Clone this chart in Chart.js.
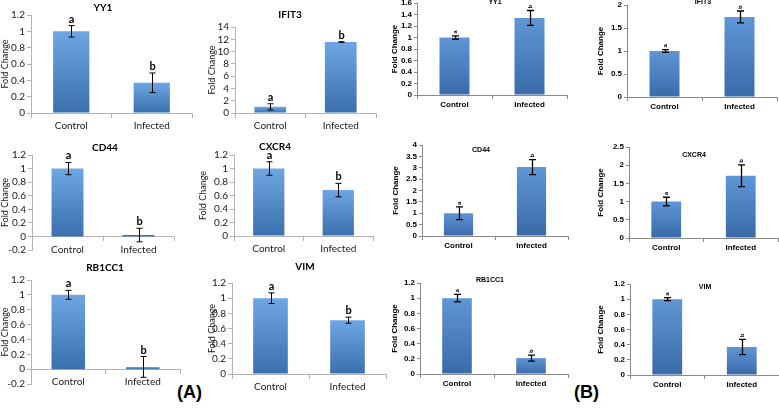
<!DOCTYPE html>
<html>
<head>
<meta charset="utf-8">
<script src="https://cdn.jsdelivr.net/npm/chart.js@4.4.0/dist/chart.umd.min.js"></script>
<style>
  html, body { margin: 0; padding: 0; background: #fff; }
  #wrap { position: relative; width: 779px; height: 409px; overflow: hidden; }
  #wrap canvas { position: absolute; }
  .tag { position: absolute; font: bold 18px "Liberation Sans", Arial, sans-serif; line-height: 20px; color: #000; }
</style>
</head>
<body>
<div id="wrap">
  <div class="tag" style="left:177px; top:382px;">(A)</div>
  <div class="tag" style="left:574px; top:382px;">(B)</div>
</div>
<script>
// data
const categories = ['Control', 'Infected'];
const letters = ['a', 'b'];
const genes = ['YY1', 'IFIT3', 'CD44', 'CXCR4', 'RB1CC1', 'VIM'];

// (A) panels: mean fold change and error per gene
const meanA = [[1.0, 0.37], [1.0, 11.55], [1.0, 0.02], [1.0, 0.68], [1.0, 0.03], [1.0, 0.71]];
const errA  = [[0.07, 0.12], [0.5, 0.05], [0.09, 0.10], [0.10, 0.10], [0.06, 0.14], [0.07, 0.04]];
// (B) panels
const meanB = [[1.0, 1.34], [1.0, 1.74], [1.0, 3.03], [1.0, 1.71], [1.0, 0.21], [1.0, 0.37]];
const errB  = [[0.03, 0.13], [0.03, 0.13], [0.28, 0.33], [0.12, 0.30], [0.05, 0.04], [0.02, 0.10]];

// y axis [min, max, step]
const axisA = [[0, 1.2, 0.2], [0, 14, 2], [-0.2, 1.2, 0.2], [0, 1.2, 0.2], [-0.2, 1.2, 0.2], [0, 1.2, 0.2]];
const axisB = [[0, 1.6, 0.2], [0, 2, 0.5], [0, 4, 0.5], [0, 2.5, 0.5], [0, 1.2, 0.2], [0, 1.2, 0.2]];

// where each plot sits on the page (L/R plot edges, T/B top/bottom tick, fold = y title x, tx/ty = title centre)
const geoA = [
  { L: 31,  R: 192, T: 15,  B: 113, fold: 5,   tx: 103, ty: 8 },
  { L: 235, R: 376, T: 27,  B: 113, fold: 212, tx: 290, ty: 15 },
  { L: 32,  R: 174, T: 155, B: 250, fold: 5,   tx: 105, ty: 148 },
  { L: 234, R: 373, T: 155, B: 236, fold: 203, tx: 275, ty: 147 },
  { L: 31,  R: 180, T: 280, B: 384, fold: 5,   tx: 105, ty: 268 },
  { L: 232, R: 386, T: 283, B: 374, fold: 212, tx: 305, ty: 267 }
];
const geoB = [
  { L: 417, R: 567, T: 3,   B: 95,  fold: 395, tx: 495, ty: 2 },
  { L: 627, R: 777, T: 5,   B: 97,  fold: 601, tx: 703, ty: 2 },
  { L: 422, R: 568, T: 145, B: 236, fold: 396, tx: 481, ty: 150 },
  { L: 629, R: 778, T: 147, B: 238, fold: 601, tx: 694, ty: 155 },
  { L: 420, R: 568, T: 283, B: 374, fold: 395, tx: 490, ty: 280 },
  { L: 630, R: 779, T: 284, B: 375, fold: 601, tx: 705, ty: 287 }
];

const calibriLike = 'Lato, "Liberation Sans", Arial, sans-serif';
const arial = '"Liberation Sans", Arial, sans-serif';

const styleA = {
  family: calibriLike, weight: 'normal', tickSize: 10, foldSize: 9, titleSize: 10,
  axis: '#b4b4b4', text: '#1a1a1a', barTop: '#6ea6e3', barBot: '#3b6fae', barPct: 0.45,
  tickLen: 4, yPad: 2, xPad: 3, capW: 3, errW: 1, letterSize: 11, letterRot: false, letterGap: 3
};
const styleB = {
  family: arial, weight: 'bold', tickSize: 8, foldSize: 8, titleSize: 7,
  axis: '#8a8a8a', text: '#000', barTop: '#5f96d6', barBot: '#3a6aa8', barPct: 0.4,
  tickLen: 3, yPad: 2, xPad: 2, capW: 3.5, errW: 1.3, letterSize: 6, letterRot: true, letterGap: 2
};

// error bars, a/b letters and the gene title
const panelDeco = {
  id: 'panelDeco',
  afterDatasetsDraw(chart, args, o) {
    const ctx = chart.ctx;
    const ys = chart.scales.y;
    const vals = chart.data.datasets[0].data;
    const meta = chart.getDatasetMeta(0);
    ctx.save();
    ctx.strokeStyle = '#000';
    ctx.fillStyle = '#000';
    ctx.lineWidth = o.errW;
    meta.data.forEach((bar, i) => {
      const hi = ys.getPixelForValue(vals[i] + o.errs[i]);
      const lo = ys.getPixelForValue(vals[i] - o.errs[i]);
      const x = Math.round(bar.x) + 0.5;
      ctx.beginPath();
      ctx.moveTo(x, hi); ctx.lineTo(x, lo);
      ctx.moveTo(x - o.capW, hi); ctx.lineTo(x + o.capW, hi);
      ctx.moveTo(x - o.capW, lo); ctx.lineTo(x + o.capW, lo);
      ctx.stroke();

      ctx.font = o.letterFont;
      const ly = Math.min(hi, bar.y) - o.letterGap;
      if (o.letterRot) {
        ctx.save();
        ctx.translate(x, ly);
        ctx.rotate(-Math.PI / 2);
        ctx.textAlign = 'left';
        ctx.textBaseline = 'middle';
        ctx.fillText(letters[i], 0, 0);
        ctx.restore();
      } else {
        ctx.textAlign = 'center';
        ctx.textBaseline = 'alphabetic';
        ctx.fillText(letters[i], x, ly);
      }
    });
    ctx.font = o.titleFont;
    ctx.textAlign = 'center';
    ctx.textBaseline = 'middle';
    ctx.fillText(o.title, o.tx, o.ty);
    ctx.restore();
  }
};

const wrap = document.getElementById('wrap');

function makePanel(geo, st, values, errs, axis, gene) {
  const lh = st.foldSize * 1.2;
  const cl = Math.max(0, Math.round(geo.fold - lh / 2));
  const ct = Math.max(0, Math.min(geo.T - 7, geo.ty - 8));
  const cr = Math.min(779, geo.R + 4);
  const cb = Math.min(409, geo.B + 22);
  const cv = document.createElement('canvas');
  cv.width = cr - cl;
  cv.height = cb - ct;
  cv.style.left = cl + 'px';
  cv.style.top = ct + 'px';
  wrap.appendChild(cv);

  const yw = geo.L - cl;
  const tickFont = { family: st.family, size: st.tickSize, weight: st.weight };

  // each bar gets its own top-light / bottom-dark gradient
  const barFill = (c) => {
    const ch = c.chart;
    const ys = ch.scales.y;
    if (!ys || !c.parsed) return st.barBot;
    const y0 = ys.getPixelForValue(0);
    const y1 = ys.getPixelForValue(c.parsed.y);
    if (!Number.isFinite(y0) || !Number.isFinite(y1) || Math.abs(y0 - y1) < 2) return st.barBot;
    const g = ch.ctx.createLinearGradient(0, y1, 0, y0);
    g.addColorStop(0, st.barTop);
    g.addColorStop(1, st.barBot);
    return g;
  };

  new Chart(cv, {
    type: 'bar',
    data: {
      labels: categories,
      datasets: [{
        data: values,
        backgroundColor: barFill,
        borderWidth: 0,
        barPercentage: st.barPct,
        categoryPercentage: 1
      }]
    },
    options: {
      responsive: false,
      animation: false,
      devicePixelRatio: 1,
      events: [],
      layout: { padding: { top: geo.T - ct, right: cr - geo.R, bottom: cb - geo.B, left: 0 } },
      plugins: {
        legend: { display: false },
        tooltip: { enabled: false },
        title: { display: false },
        panelDeco: {
          errs: errs, errW: st.errW, capW: st.capW,
          letterFont: 'bold ' + st.letterSize + 'px ' + st.family,
          letterRot: st.letterRot, letterGap: st.letterGap,
          title: gene, titleFont: 'bold ' + st.titleSize + 'px ' + st.family,
          tx: geo.tx - cl, ty: geo.ty - ct
        }
      },
      scales: {
        x: {
          position: { y: 0 },
          offset: true,
          grid: { display: true, drawOnChartArea: false, drawTicks: true, tickLength: st.tickLen, color: st.axis, offset: true },
          border: { display: true, color: st.axis },
          ticks: { font: tickFont, color: st.text, padding: st.xPad, maxRotation: 0, autoSkip: false },
          afterFit: (s) => { s.height = 0; s.paddingLeft = 0; s.paddingRight = 0; }
        },
        y: {
          min: axis[0],
          max: axis[1],
          ticks: {
            stepSize: axis[2], font: tickFont, color: st.text, padding: st.yPad, autoSkip: false, z: 1,
            callback: (v) => String(Math.round(v * 100) / 100)
          },
          grid: { display: true, drawOnChartArea: false, drawTicks: true, tickLength: st.tickLen, color: st.axis },
          border: { display: true, color: st.axis },
          title: {
            display: true, text: 'Fold Change', color: st.text, padding: 0,
            font: { family: st.family, size: st.foldSize, weight: st.weight }
          },
          afterFit: (s) => { s.width = yw; s.paddingTop = 0; s.paddingBottom = 0; }
        }
      }
    },
    plugins: [panelDeco]
  });
}

genes.forEach((g, i) => {
  makePanel(geoA[i], styleA, meanA[i], errA[i], axisA[i], g);
  makePanel(geoB[i], styleB, meanB[i], errB[i], axisB[i], g);
});
</script>
</body>
</html>
